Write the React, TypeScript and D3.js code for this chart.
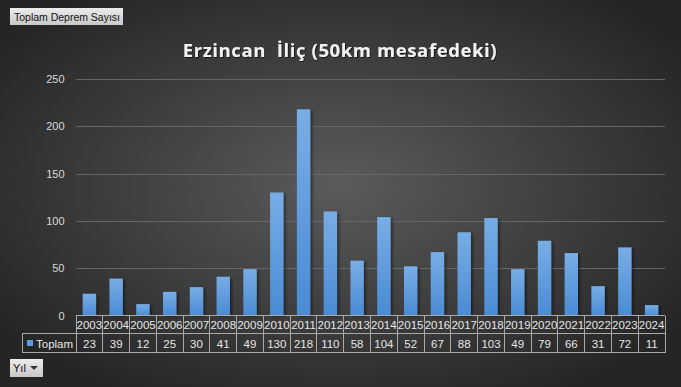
import * as d3 from 'd3';

const years = ['2003', '2004', '2005', '2006', '2007', '2008', '2009', '2010', '2011', '2012', '2013', '2014', '2015', '2016', '2017', '2018', '2019', '2020', '2021', '2022', '2023', '2024'];
const totals = [23, 39, 12, 25, 30, 41, 49, 130, 218, 110, 58, 104, 52, 67, 88, 103, 49, 79, 66, 31, 72, 11];
const yTicks = [0, 50, 100, 150, 200, 250];

const W = 681;
const H = 387;
const margin = { top: 79, right: 16, bottom: 71, left: 76 };

export default function App() {
  const x = d3.scaleBand<string>()
    .domain(years)
    .range([margin.left, W - margin.right])
    .paddingInner(0.5)
    .paddingOuter(0.25);
  const y = d3.scaleLinear().domain([0, 250]).range([H - margin.bottom - 0.5, margin.top]);

  const step = x.step();
  const colLeft = (i: number) => margin.left + i * step;
  const tableTop = y(0);
  const rowMid = tableTop + 18;
  const tableBottom = rowMid + 19;
  const textFont = '"Liberation Sans", Arial, sans-serif';

  return (
    <svg width={W} height={H} style={{ position: 'absolute', left: 0, top: 0 }}>
      <defs>
        <radialGradient id="bg" cx="50%" cy="48%" r="62%">
          <stop offset="0%" stopColor="#5b5b5b" />
          <stop offset="100%" stopColor="#252525" />
        </radialGradient>
        <linearGradient id="bar" x1="0" y1="0" x2="0" y2="1">
          <stop offset="0%" stopColor="#78aee6" />
          <stop offset="100%" stopColor="#4a8bd4" />
        </linearGradient>
        <linearGradient id="btn" x1="0" y1="0" x2="0" y2="1">
          <stop offset="0%" stopColor="#ececec" />
          <stop offset="100%" stopColor="#c9c9c9" />
        </linearGradient>
        <filter id="shadow" x="-30%" y="-10%" width="160%" height="120%">
          <feDropShadow dx="2" dy="1" stdDeviation="1.5" floodColor="#000" floodOpacity="0.45" />
        </filter>
        <filter id="tshadow">
          <feDropShadow dx="1" dy="1" stdDeviation="0.6" floodColor="#000" floodOpacity="0.6" />
        </filter>
      </defs>

      <rect width={W} height={H} fill="url(#bg)" />

      {/* pivot field buttons */}
      <rect x={10} y={8} width={113} height={17} fill="url(#btn)" />
      <text x={14} y={20.5} fontFamily={textFont} fontSize={10.5} fill="#111" textLength={106}
        lengthAdjust="spacingAndGlyphs">Toplam Deprem Sayısı</text>
      <rect x={10} y={359} width={33} height={18} fill="url(#btn)" />
      <text x={13} y={372} fontFamily={textFont} fontSize={11} fill="#111">Yıl</text>
      <path d="M30,366 L38,366 L34,370 Z" fill="#333" />

      <text x={340} y={57} textAnchor="middle" fontFamily='"Open Sans", sans-serif' fontWeight="bold"
        fontSize={18.5} letterSpacing={0.6} fill="#f2f2f2" filter="url(#tshadow)" style={{ whiteSpace: 'pre' }}>
        Erzincan  İliç (50km mesafedeki)
      </text>

      {/* gridlines + y labels */}
      {yTicks.map(t => (
        <g key={t}>
          {t > 0 && (
            <line x1={margin.left} x2={W - margin.right} y1={Math.round(y(t)) + 0.5} y2={Math.round(y(t)) + 0.5}
              stroke="#666" strokeWidth={1} />
          )}
          <text x={64.5} y={y(t) + 4} textAnchor="end" fontFamily={textFont} fontSize={11} fill="#d9d9d9">{t}</text>
        </g>
      ))}

      {/* bars */}
      {years.map((yr, i) => (
        <rect key={yr} x={x(yr)} y={y(totals[i])} width={x.bandwidth()} height={y(0) - y(totals[i])}
          fill="url(#bar)" filter="url(#shadow)" />
      ))}

      {/* data table */}
      <g stroke="#a9a9a9" strokeWidth={1} fill="none" shapeRendering="crispEdges">
        <line x1={margin.left} x2={W - margin.right} y1={tableTop} y2={tableTop} />
        <line x1={22} x2={W - margin.right} y1={rowMid} y2={rowMid} />
        <line x1={22} x2={W - margin.right} y1={tableBottom} y2={tableBottom} />
        <line x1={22} x2={22} y1={rowMid} y2={tableBottom} />
        {years.map((yr, i) => (
          <line key={yr} x1={colLeft(i)} x2={colLeft(i)} y1={tableTop} y2={tableBottom} />
        ))}
        <line x1={W - margin.right} x2={W - margin.right} y1={tableTop} y2={tableBottom} />
      </g>
      {years.map((yr, i) => (
        <g key={yr} fontFamily={textFont} fontSize={11.5} fill="#e6e6e6" textAnchor="middle">
          <text x={colLeft(i) + step / 2} y={tableTop + 13.5}>{yr}</text>
          <text x={colLeft(i) + step / 2} y={rowMid + 14}>{totals[i]}</text>
        </g>
      ))}
      <rect x={27} y={340} width={6} height={6} fill="#5b9bdf" />
      <text x={36} y={rowMid + 14} fontFamily={textFont} fontSize={11.5} fill="#e6e6e6">Toplam</text>
    </svg>
  );
}
